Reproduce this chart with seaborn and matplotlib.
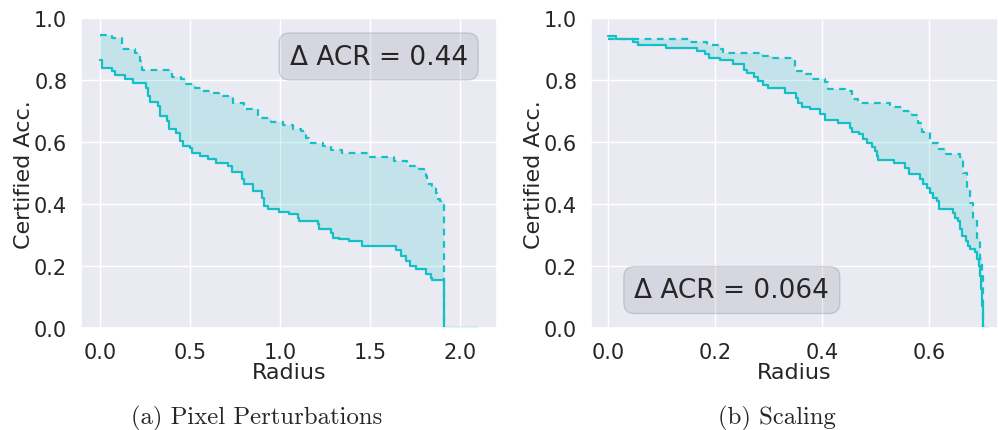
import numpy as np
import pandas as pd
import seaborn as sns
import matplotlib.pyplot as plt

# ---------------- data ----------------
left_solid_r = [0, 0.013, 0.065, 0.083, 0.138, 0.184, 0.255, 0.264, 0.280, 0.323,
                0.332, 0.373, 0.384, 0.424, 0.443, 0.461, 0.498, 0.511, 0.553, 0.599,
                0.645, 0.710, 0.734, 0.787, 0.802, 0.848, 0.900, 0.913, 0.931, 0.996,
                1.051, 1.097, 1.106, 1.208, 1.217, 1.282, 1.291, 1.328, 1.383, 1.453,
                1.641, 1.669, 1.697, 1.719, 1.756, 1.807, 1.835, 1.844, 1.912, 2.100]
left_solid_acc = [0.864, 0.840, 0.829, 0.815, 0.804, 0.791, 0.775, 0.749, 0.730, 0.716,
                  0.684, 0.668, 0.641, 0.631, 0.604, 0.588, 0.582, 0.564, 0.555, 0.547,
                  0.534, 0.523, 0.505, 0.480, 0.464, 0.443, 0.421, 0.395, 0.384, 0.375,
                  0.368, 0.357, 0.346, 0.336, 0.320, 0.309, 0.293, 0.287, 0.282, 0.266,
                  0.253, 0.234, 0.218, 0.202, 0.191, 0.175, 0.164, 0.157, 0.0, 0.0]

left_dashed_r = [0, 0.065, 0.120, 0.194, 0.221, 0.231, 0.402, 0.452, 0.479, 0.526,
                 0.562, 0.609, 0.673, 0.738, 0.802, 0.876, 0.950, 1.014, 1.070, 1.116,
                 1.143, 1.162, 1.236, 1.282, 1.346, 1.494, 1.632, 1.706, 1.770, 1.807,
                 1.816, 1.844, 1.866, 1.872, 1.890, 1.912]
left_dashed_acc = [0.945, 0.934, 0.899, 0.888, 0.861, 0.834, 0.811, 0.802, 0.786, 0.775,
                   0.765, 0.759, 0.749, 0.727, 0.706, 0.679, 0.666, 0.654, 0.643, 0.636,
                   0.614, 0.598, 0.588, 0.575, 0.564, 0.553, 0.539, 0.523, 0.513, 0.491,
                   0.464, 0.459, 0.438, 0.416, 0.412, 0.0]

right_solid_r = [0, 0.0143, 0.0455, 0.0561, 0.1078, 0.1651, 0.1807, 0.1888, 0.2087, 0.2336,
                 0.2536, 0.2586, 0.2723, 0.2804, 0.2897, 0.2991, 0.3302, 0.3508, 0.3551, 0.3626,
                 0.3769, 0.3956, 0.4050, 0.4299, 0.4517, 0.4548, 0.4692, 0.4766, 0.4841, 0.4922,
                 0.4984, 0.5028, 0.5047, 0.5340, 0.5545, 0.5626, 0.5826, 0.5875, 0.5963, 0.6012,
                 0.6062, 0.6150, 0.6187, 0.6449, 0.6480, 0.6542, 0.6573, 0.6604, 0.6679, 0.6717,
                 0.6760, 0.6854, 0.6897, 0.6928, 0.6947, 0.6966, 0.6984, 0.6997, 0.7103]
right_solid_acc = [0.942, 0.933, 0.922, 0.913, 0.902, 0.893, 0.883, 0.872, 0.864, 0.853,
                   0.834, 0.824, 0.811, 0.797, 0.783, 0.773, 0.759, 0.743, 0.727, 0.714,
                   0.706, 0.690, 0.671, 0.661, 0.647, 0.633, 0.625, 0.609, 0.596, 0.586,
                   0.572, 0.555, 0.543, 0.534, 0.518, 0.497, 0.480, 0.464, 0.454, 0.438,
                   0.421, 0.411, 0.386, 0.373, 0.357, 0.346, 0.322, 0.298, 0.282, 0.266,
                   0.255, 0.245, 0.223, 0.202, 0.169, 0.127, 0.073, 0.0, 0.0]

right_dashed_r = [0, 0.1526, 0.1838, 0.2087, 0.2150, 0.2897, 0.3053, 0.3458, 0.3489, 0.3645,
                  0.3801, 0.4050, 0.4112, 0.4424, 0.4548, 0.4673, 0.5265, 0.5483, 0.5670, 0.5794,
                  0.5857, 0.6012, 0.6168, 0.6312, 0.6573, 0.6636, 0.6698, 0.6760, 0.6822, 0.6897,
                  0.6947, 0.6978, 0.6997, 0.7009]
right_dashed_acc = [0.933, 0.922, 0.913, 0.899, 0.888, 0.877, 0.872, 0.861, 0.829, 0.821,
                    0.804, 0.794, 0.772, 0.765, 0.738, 0.725, 0.714, 0.700, 0.687, 0.663,
                    0.633, 0.598, 0.579, 0.563, 0.552, 0.502, 0.448, 0.405, 0.352, 0.293,
                    0.223, 0.169, 0.094, 0.0]

left_xticks = [0.0, 0.5, 1.0, 1.5, 2.0]
right_xticks = [0.0, 0.2, 0.4, 0.6]
yticks = [0.0, 0.2, 0.4, 0.6, 0.8, 1.0]
annotations = ["Δ ACR = 0.44", "Δ ACR = 0.064"]
captions = ["(a) Pixel Perturbations", "(b) Scaling"]

# ---------------- style ----------------
sns.set_theme(style="darkgrid")
plt.rcParams['font.family'] = ['DejaVu Sans']
COLOR = '#13c0c6'

fig = plt.figure(figsize=(9.98, 4.31), dpi=100)
ax1 = fig.add_axes([0.0812, 0.2355, 0.417, 0.7204])
ax2 = fig.add_axes([0.5922, 0.2355, 0.4078, 0.7204])


def step_eval(r, a, grid):
    r = np.asarray(r)
    a = np.asarray(a)
    idx = np.searchsorted(r, grid, side='right') - 1
    return a[np.clip(idx, 0, len(a) - 1)]


def panel(ax, rs, acs, rd, acd, xticks, xlim, note, note_xy):
    sdf = pd.DataFrame({'Radius': rs, 'Acc': acs})
    ddf = pd.DataFrame({'Radius': rd, 'Acc': acd})
    grid = np.union1d(rs, rd)
    grid = grid[grid <= max(rd)]
    lo = step_eval(rs, acs, grid)
    hi = step_eval(rd, acd, grid)
    ax.fill_between(grid, lo, hi, step='post', color=COLOR, alpha=0.18, lw=0)
    sns.lineplot(data=sdf, x='Radius', y='Acc', ax=ax, color=COLOR, lw=1.6,
                 drawstyle='steps-post', estimator=None, sort=False)
    sns.lineplot(data=ddf, x='Radius', y='Acc', ax=ax, color=COLOR, lw=1.6,
                 drawstyle='steps-post', estimator=None, sort=False,
                 dashes=False, linestyle=(0, (3, 2.5)))
    ax.set_ylim(0, 1)
    ax.set_xlim(*xlim)
    ax.set_xticks(xticks)
    ax.set_xticklabels([f"{t:.1f}" for t in xticks])
    ax.set_yticks(yticks)
    ax.set_yticklabels([f"{t:.1f}" for t in yticks])
    ax.tick_params(labelsize=15, pad=4)
    ax.set_xlabel('Radius', fontsize=16, labelpad=0)
    ax.set_ylabel('Certified Acc.', fontsize=16, labelpad=0)
    ax.text(note_xy[0], note_xy[1], note, transform=ax.transAxes, ha='center', va='center',
            fontsize=19, color='#262626',
            bbox=dict(boxstyle='round,pad=0.4', facecolor='#8a8aa0', edgecolor='#555566',
                      alpha=0.2))


panel(ax1, left_solid_r, left_solid_acc, left_dashed_r, left_dashed_acc,
      left_xticks, (-0.105, 2.205), annotations[0], (0.715, 0.876))
panel(ax2, right_solid_r, right_solid_acc, right_dashed_r, right_dashed_acc,
      right_xticks, (-0.0323, 0.7285), annotations[1], (0.346, 0.124))

fig.text(0.257, 0.03, captions[0], family='cmr10', fontsize=17.8, ha='center', va='center')
fig.text(0.778, 0.03, captions[1], family='cmr10', fontsize=17.8, ha='center', va='center')

fig.savefig('out.png', dpi=100)
